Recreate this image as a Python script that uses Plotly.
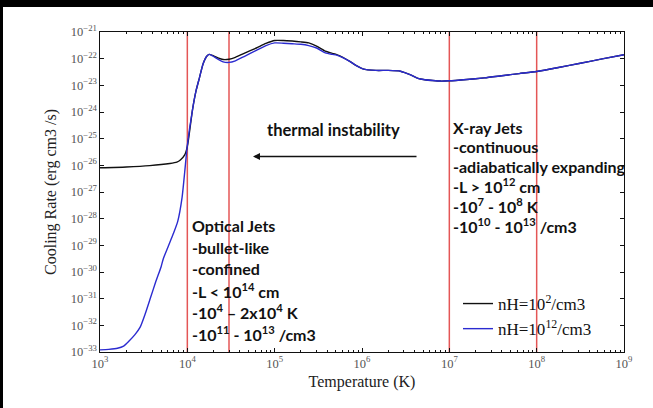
import numpy as np
import plotly.graph_objects as go

# ---- data (log10 units) ----
logT_low = [3.0, 3.3, 3.57, 3.8, 3.88, 3.92, 3.97, 4.0, 4.06, 4.1, 4.14, 4.18, 4.22, 4.25, 4.29, 4.35,
            4.41, 4.477, 4.55, 4.65, 4.79, 4.9, 5.0, 5.1, 5.2, 5.3, 5.39, 5.48, 5.58, 5.66, 5.71,
            5.78, 5.86, 5.93, 6.01, 6.16, 6.3, 6.44, 6.55, 6.64, 6.72, 6.81, 6.9, 7.0, 7.2, 7.4,
            7.6, 7.8, 8.0, 8.25, 8.5, 8.75, 9.0]
logL_low = [-26.09, -26.06, -26.01, -25.93, -25.88, -25.8, -25.61, -25.3, -23.9, -23.2, -22.7, -22.2,
            -21.92, -21.84, -21.88, -21.97, -22.03, -22.02, -21.95, -21.8, -21.6, -21.43, -21.32,
            -21.32, -21.34, -21.37, -21.41, -21.53, -21.72, -21.8, -21.85, -21.95, -22.1, -22.25,
            -22.38, -22.44, -22.44, -22.47, -22.6, -22.74, -22.79, -22.82, -22.84, -22.83, -22.78,
            -22.72, -22.64, -22.56, -22.48, -22.33, -22.17, -22.01, -21.85]

logT_high = [3.0, 3.1, 3.2, 3.27, 3.33, 3.4, 3.46, 3.52, 3.58, 3.64, 3.7, 3.725, 3.78, 3.84, 3.89,
             3.94, 3.97, 4.0, 4.06, 4.1, 4.14, 4.18, 4.22, 4.25, 4.29, 4.35, 4.41, 4.477, 4.55, 4.65,
             4.79, 4.9, 5.0, 5.1, 5.2, 5.3, 5.39, 5.48, 5.58, 5.66, 5.71, 5.78, 5.86, 5.93, 6.01,
             6.16, 6.3, 6.44, 6.55, 6.64, 6.72, 6.81, 6.9, 7.0, 7.2, 7.4, 7.6, 7.8, 8.0, 8.25, 8.5,
             8.75, 9.0]
logL_high = [-32.92, -32.9, -32.86, -32.78, -32.6, -32.35, -32.07, -31.55, -30.95, -30.35, -29.8,
             -29.5, -29.05, -28.56, -28.1, -27.2, -26.25, -25.25, -23.9, -23.2, -22.7, -22.2,
             -21.92, -21.84, -21.9, -22.02, -22.12, -22.14, -22.08, -21.92, -21.69, -21.51, -21.41,
             -21.42, -21.44, -21.46, -21.51, -21.6, -21.78, -21.84, -21.87, -21.96, -22.1, -22.25,
             -22.38, -22.44, -22.44, -22.47, -22.6, -22.74, -22.79, -22.82, -22.84, -22.83, -22.78,
             -22.72, -22.64, -22.56, -22.48, -22.33, -22.17, -22.01, -21.85]

marker_temps = [1e4, 3e4, 1e7, 1e8]
series_names = ["nH=10<sup>2</sup>/cm3", "nH=10<sup>12</sup>/cm3"]

optical_lines = ["Optical Jets", "-bullet-like", "-confined", "-L < 10<sup>14</sup> cm",
                 "-10<sup>4</sup> – 2x10<sup>4</sup> K", "-10<sup>11</sup> - 10<sup>13</sup> /cm3"]
xray_lines = ["X-ray Jets", "-continuous", "-adiabatically expanding", "-L > 10<sup>12</sup> cm",
              "-10<sup>7</sup> - 10<sup>8</sup> K", "-10<sup>10</sup> - 10<sup>13</sup> /cm3"]

# ---- geometry ----
W, H = 653, 408
L, R, T, B = 100, 624, 32, 352
def px(p):
    return (p - L) / (R - L)
def py(p):
    return (B - p) / (B - T)

fig = go.Figure()

for v in marker_temps:
    fig.add_trace(go.Scatter(x=[v, v], y=[1e-33, 1e-21], mode="lines",
                             line=dict(color="rgb(228,86,86)", width=1.5),
                             showlegend=False, hoverinfo="skip"))

fig.add_trace(go.Scatter(x=np.power(10.0, logT_low), y=np.power(10.0, logL_low), mode="lines",
                         line=dict(color="#111111", width=1.4, shape="spline", smoothing=0.6),
                         name=series_names[0], legendgroup="a"))
fig.add_trace(go.Scatter(x=np.power(10.0, logT_high), y=np.power(10.0, logL_high), mode="lines",
                         line=dict(color="#2b2bd0", width=1.4, shape="spline", smoothing=0.6),
                         name=series_names[1], legendgroup="b"))

ann = []
sans = "Lato"
fs = 16
for i, t in enumerate(optical_lines):
    ann.append(dict(text=t, xref="paper", yref="paper", x=px(190), y=py(225.7 + i * 21.5),
                    xanchor="left", yanchor="middle", showarrow=False,
                    font=dict(family=sans, size=fs, color="#111", weight="bold")))
for i, t in enumerate(xray_lines):
    ann.append(dict(text=t, xref="paper", yref="paper", x=px(451), y=py(127 + i * 19.6),
                    xanchor="left", yanchor="middle", showarrow=False,
                    font=dict(family=sans, size=fs, color="#111", weight="bold")))
ann.append(dict(text="thermal instability", xref="paper", yref="paper", x=px(333), y=py(130),
                xanchor="center", yanchor="middle", showarrow=False,
                font=dict(family=sans, size=16.5, color="#111", weight="bold")))
ann.append(dict(text="", xref="paper", yref="paper", x=px(253), y=py(156.5),
                axref="pixel", ayref="pixel", ax=165, ay=0, showarrow=True,
                arrowhead=2, arrowsize=1, arrowwidth=1.4, arrowcolor="#111"))

fig.update_layout(
    width=W, height=H,
    margin=dict(l=L, r=W - R, t=T, b=H - B),
    paper_bgcolor="white", plot_bgcolor="white",
    annotations=ann,
    legend=dict(x=px(458), y=py(286), xanchor="left", yanchor="top",
                bgcolor="rgba(0,0,0,0)", tracegroupgap=0,
                font=dict(family="Liberation Serif", size=17, color="#111")),
    shapes=[
        dict(type="rect", xref="paper", yref="paper", x0=px(-10), x1=px(3), y0=py(420), y1=py(-10),
             fillcolor="black", line=dict(width=0), layer="below"),
        dict(type="rect", xref="paper", yref="paper", x0=px(-10), x1=px(665), y0=py(7), y1=py(-10),
             fillcolor="black", line=dict(width=0), layer="below"),
    ],
)

fig.update_xaxes(type="log", range=[3, 9], dtick=1, exponentformat="power",
                 showgrid=False, zeroline=False, showline=True, linecolor="#111", linewidth=1.2,
                 mirror="allticks", ticks="inside", ticklen=4, tickcolor="#111",
                 minor=dict(ticks="inside", ticklen=2, tickcolor="#111", showgrid=False),
                 tickfont=dict(family="Liberation Serif", size=10, color="#555"),
                 title=dict(text="Temperature (K)", standoff=6,
                            font=dict(family="Liberation Serif", size=16, color="#222")))
fig.update_yaxes(type="log", range=[-33, -21], dtick=1, exponentformat="power",
                 showgrid=False, zeroline=False, showline=True, linecolor="#111", linewidth=1.2,
                 mirror="allticks", ticks="inside", ticklen=4, tickcolor="#111",
                 tickfont=dict(family="Liberation Serif", size=10, color="#555"),
                 title=dict(text="Cooling Rate (erg cm3 /s)", standoff=10,
                            font=dict(family="Liberation Serif", size=16, color="#222")))

fig.write_html("out.html", config={"displayModeBar": False},
               post_script="document.body.style.margin='0px';")
